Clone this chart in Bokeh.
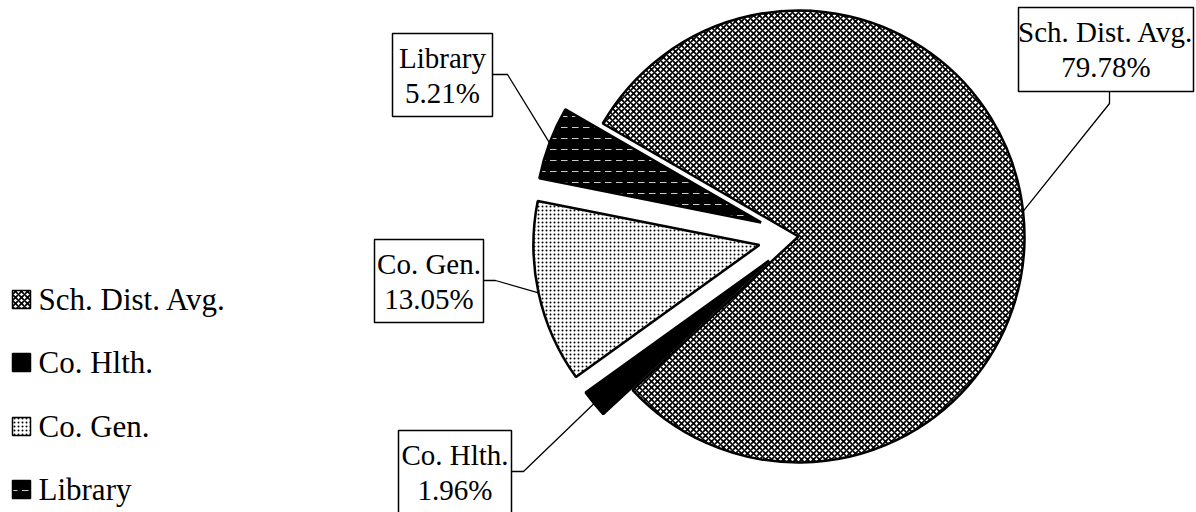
import math
from bokeh.plotting import figure
from bokeh.models import Range1d
from bokeh.core.properties import value
from bokeh.embed import file_html
from bokeh.resources import INLINE

# ---------------- data ----------------
categories = ["Sch. Dist. Avg.", "Co. Hlth.", "Co. Gen.", "Library"]
shares = [79.78, 1.96, 13.05, 5.21]
pct_labels = ["79.78%", "1.96%", "13.05%", "5.21%"]

# ---------------- layout constants ----------------
W, H = 1196, 512
def sy(y):  # screen y -> data y
    return H - y

CX, CY = 798, sy(236)
R = 226
START_DEG = 150.0          # first slice starts here, slices run clockwise
EXPLODE = [0, 38, 40, 40]

# label boxes (screen px): left, right, top, bottom, anchor-on-box, elbow
boxes = [
    (1018, 1193, 7, 91, (1109, 91), (1109, 103)),
    (398, 511, 430, 514, (511, 471), (523, 471)),
    (374, 483, 239, 322, (483, 280), (495, 280)),
    (392, 492, 33, 116, (492, 74), (507, 74)),
]
legend_y = [299, 362, 426, 489]

# fill styles: fill colour, hatch pattern, hatch colour, scale, weight
styles = [
    ("white", "diagonal_cross", "black", 6, 1.7),
    ("black", None, None, None, None),
    ("white", "dot", "black", 4, 1.1),
    ("black", "horizontal_dash", "white", 11, 0.8),
]

# ---------------- figure ----------------
p = figure(width=W, height=H, x_range=Range1d(0, W), y_range=Range1d(0, H),
           x_axis_type=None, y_axis_type=None, toolbar_location=None,
           output_backend="svg", min_border=0, outline_line_color=None,
           background_fill_color="white", border_fill_color="white")
p.xgrid.visible = False
p.ygrid.visible = False

def style_kw(i):
    fc, pat, hc, hs, hw = styles[i]
    kw = dict(fill_color=fc)
    if pat is not None:
        kw.update(hatch_pattern=pat, hatch_color=hc, hatch_scale=hs, hatch_weight=hw)
    return kw

total = sum(shares)
acc = math.radians(START_DEG)
serif = value("Liberation Serif")
for i, (cat, v) in enumerate(zip(categories, shares)):
    span = v / total * 2 * math.pi
    s = acc
    e = acc - span
    mid = acc - span / 2
    acc = e
    cx = CX + EXPLODE[i] * math.cos(mid)
    cy = CY + EXPLODE[i] * math.sin(mid)
    p.wedge(x=cx, y=cy, radius=R, start_angle=e, end_angle=s, direction="anticlock",
            line_color="black", line_width=2.5, **style_kw(i))

    # leader line to middle of the arc
    ax = cx + R * math.cos(mid)
    ay = cy + R * math.sin(mid)
    l, rr, t, b, anc, elb = boxes[i]
    p.line([anc[0], elb[0], ax], [sy(anc[1]), sy(elb[1]), ay], line_color="black", line_width=1.3)
    # label box
    p.quad(left=l, right=rr, top=sy(t), bottom=sy(b), fill_color="white",
           line_color="black", line_width=1.5)
    tx = (l + rr) / 2
    p.text(x=[tx, tx], y=[sy(t + 24), sy(t + 59)], text=[cat, pct_labels[i]],
           text_font=serif, text_font_size="29px", text_align="center",
           text_baseline="middle", text_color="black")

    # legend
    ly = legend_y[i]
    p.rect(x=21, y=sy(ly), width=18, height=18, line_color="black", line_width=1.5, **style_kw(i))
    p.text(x=[38], y=[sy(ly)], text=[cat], text_font=serif, text_font_size="31px",
           text_align="left", text_baseline="middle", text_color="black")

open("out.html", "w").write(file_html(p, INLINE))
